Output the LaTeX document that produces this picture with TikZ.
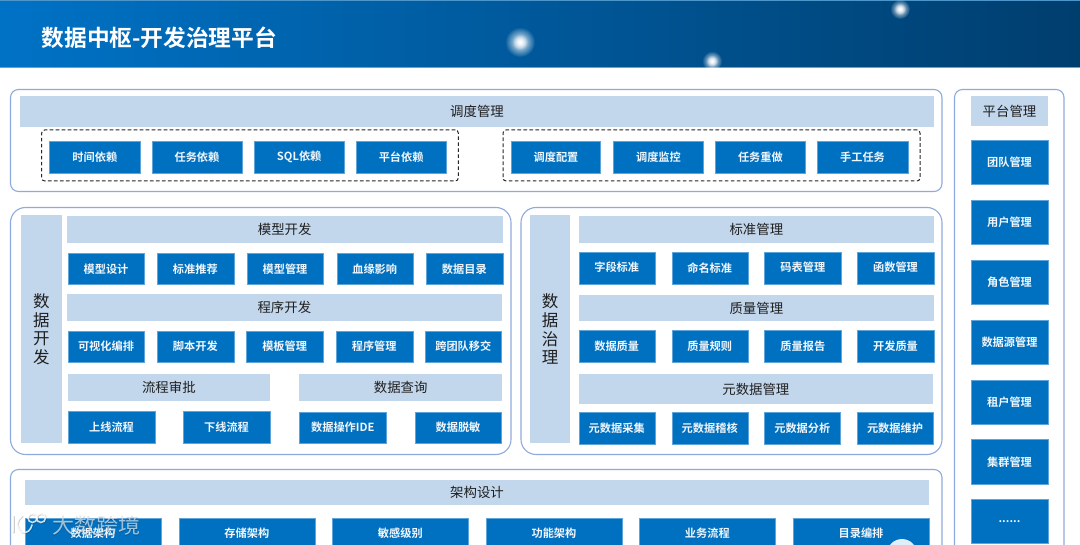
\documentclass[tikz,border=0pt]{standalone}
\usepackage{fontspec}
\usetikzlibrary{fadings}
\setmainfont{Noto Sans CJK SC}
\newfontfamily\cjkreg{Noto Sans CJK SC}
\newfontfamily\cjkmid{Noto Sans CJK SC Bold}
\newfontfamily\cjkbold{Noto Sans CJK SC Bold}
\definecolor{blockblue}{HTML}{0070C0}
\definecolor{blockedge}{HTML}{5FA5DA}
\definecolor{barblue}{HTML}{C2D6EC}
\definecolor{paneledge}{HTML}{8FAADC}
\definecolor{headleft}{HTML}{0072C6}
\definecolor{headmid}{HTML}{0069B6}
\definecolor{headright}{HTML}{003E6E}
\definecolor{inktext}{HTML}{1F1F1F}
\tikzfading[name=glowfade, inner color=transparent!0, outer color=transparent!100]
\tikzset{
  blk/.style={draw=blockedge, line width=0.3pt, fill=blockblue, text=white!94!blockblue, inner sep=0pt, outer sep=0pt,
    font=\cjkmid\fontsize{11.2}{13}\selectfont},
  hbar/.style={fill=barblue, text=inktext, inner sep=0pt, outer sep=0pt,
    font=\cjkreg\fontsize{13.4}{16}\selectfont},
  sidebar/.style={fill=barblue, text=inktext, inner sep=0pt, outer sep=0pt, align=center,
    font=\cjkreg\fontsize{16.5}{18.6}\selectfont},
  panelsq/.style={draw=paneledge, line width=1.1pt, fill=white, rounded corners=8pt, inner sep=0pt, outer sep=0pt},
  panelrd/.style={draw=paneledge, line width=1.1pt, fill=white, rounded corners=15pt, inner sep=0pt, outer sep=0pt},
  dashbox/.style={draw=black!85, line width=1pt, dash pattern=on 3.6pt off 2.4pt, rounded corners=3pt, inner sep=0pt, outer sep=0pt},
}
\newcommand{\bx}[7][]{%
  \pgfmathsetmacro{\bxw}{#5-#3}\pgfmathsetmacro{\bxh}{#6-#4}%
  \pgfmathsetmacro{\bxx}{(#3+#5)/2}\pgfmathsetmacro{\bxy}{(#4+#6)/2}%
  \node[#1, minimum width=\bxw pt, minimum height=\bxh pt] (#2) at (\bxx,\bxy) {#7};}
\begin{document}
\begin{tikzpicture}[x=1pt,y=-1pt]
\useasboundingbox (0,0) rectangle (1080,545);
\clip (0,0) rectangle (1080,545);
\fill[white] (0,0) rectangle (1080,545);
% header
\shade[left color=headleft, middle color=headmid, right color=headright, shading angle=90] (0,0) rectangle (1080,67);
\draw[blockedge, line width=0.6pt] (0,67) -- (1080,67);
\draw[headmid!70!white, line width=0.5pt] (0,0.3) -- (1080,0.3);
\fill[white, path fading=glowfade] (520,42) circle (15);
\fill[white, path fading=glowfade, opacity=.9] (520,42) circle (8);
\fill[white, path fading=glowfade] (900,9) circle (10);
\fill[white, path fading=glowfade, opacity=.9] (900,9) circle (6);
\fill[white, path fading=glowfade] (712,61) circle (10);
\fill[white, path fading=glowfade, opacity=.9] (712,61) circle (6);
\node[text=white, anchor=west, inner sep=0pt, font=\cjkbold\fontsize{22.7}{26}\selectfont] (title) at (41.5,38) {数据中枢-开发治理平台};
% panels
\bx[panelsq]{psched}{10.5}{89.5}{942}{191.5}{}
\bx[panelsq]{pplat}{954.5}{89.5}{1064}{580}{}
\bx[panelrd]{pdev}{10.5}{207.5}{511}{454.5}{}
\bx[panelrd]{pgov}{521}{207.5}{942}{454.5}{}
\bx[panelsq]{parch}{10.5}{469.5}{942}{580}{}
% scheduling
\bx[hbar]{hsched}{20}{96.5}{934}{126.7}{调度管理}
\bx[dashbox]{dleft}{41.7}{130}{458.3}{181}{}
\bx[dashbox]{dright}{503}{130}{920}{181}{}
\bx[blk]{s1}{49.6}{141}{140}{173}{时间依赖}
\bx[blk]{s2}{151.9}{141}{242}{173}{任务依赖}
\bx[blk]{s3}{254}{141}{344.4}{173}{SQL依赖}
\bx[blk]{s4}{356}{141}{446.3}{173}{平台依赖}
\bx[blk]{s5}{511.4}{141}{600.6}{173}{调度配置}
\bx[blk]{s6}{613.3}{141}{703.6}{173}{调度监控}
\bx[blk]{s7}{715.3}{141}{805.5}{173}{任务重做}
\bx[blk]{s8}{817.2}{141}{907.8}{173}{手工任务}
% platform
\bx[hbar]{hplat}{971}{96.3}{1048}{125.7}{平台管理}
\bx[blk]{m1}{971}{140}{1048}{184}{团队管理}
\bx[blk]{m2}{971}{200}{1048}{244}{用户管理}
\bx[blk]{m3}{971}{260}{1048}{304}{角色管理}
\bx[blk]{m4}{971}{320}{1048}{364}{数据源管理}
\bx[blk]{m5}{971}{380}{1048}{424}{租户管理}
\bx[blk]{m6}{971}{439.5}{1048}{484}{集群管理}
\bx[blk]{m7}{971}{499}{1048}{543}{\raisebox{-3pt}{......}}
% data development
\bx[sidebar]{sdev}{21}{215.3}{61.7}{443.3}{数\\据\\开\\发}
\bx[hbar]{h1}{66.7}{216}{502.7}{243}{模型开发}
\bx[blk]{d1}{67.7}{253.3}{144.3}{284.3}{模型设计}
\bx[blk]{d2}{157}{253.3}{233.7}{284.3}{标准推荐}
\bx[blk]{d3}{247}{253.3}{323}{284.3}{模型管理}
\bx[blk]{d4}{336.7}{253.3}{412.7}{284.3}{血缘影响}
\bx[blk]{d5}{426}{253.3}{502.7}{284.3}{数据目录}
\bx[hbar]{h2}{66.7}{294}{502}{321.3}{程序开发}
\bx[blk]{e1}{67.7}{331}{144.3}{362}{可视化编排}
\bx[blk]{e2}{157}{331}{233.7}{362}{脚本开发}
\bx[blk]{e3}{246.3}{331}{323}{362}{模板管理}
\bx[blk]{e4}{335.7}{331}{412.7}{362}{程序管理}
\bx[blk]{e5}{425.3}{331}{501.3}{362}{跨团队移交}
\bx[hbar]{h3}{67.7}{374}{270}{401}{流程审批}
\bx[hbar]{h4}{299.3}{374}{502}{401}{数据查询}
\bx[blk]{f1}{68.3}{411}{154.7}{443.3}{上线流程}
\bx[blk]{f2}{183}{411}{270}{443.3}{下线流程}
\bx[blk]{f3}{299.3}{412}{386.3}{443.3}{数据操作IDE}
\bx[blk]{f4}{415}{412}{501}{443.3}{数据脱敏}
% data governance
\bx[sidebar]{sgov}{530}{215.3}{570.3}{443.3}{数\\据\\治\\理}
\bx[hbar]{g1}{578.7}{216}{934}{243}{标准管理}
\bx[blk]{a1}{578.7}{251.7}{654.7}{283.7}{字段标准}
\bx[blk]{a2}{671.7}{251.7}{747.7}{283.7}{命名标准}
\bx[blk]{a3}{764.3}{251.7}{841.3}{283.7}{码表管理}
\bx[blk]{a4}{857}{251.7}{934}{283.7}{函数管理}
\bx[hbar]{g2}{578.7}{295}{934}{321.3}{质量管理}
\bx[blk]{b1}{578.7}{330}{654.7}{362.3}{数据质量}
\bx[blk]{b2}{671.7}{330}{747.7}{362.3}{质量规则}
\bx[blk]{b3}{764.3}{330}{841.3}{362.3}{质量报告}
\bx[blk]{b4}{857}{330}{934}{362.3}{开发质量}
\bx[hbar]{g3}{578.7}{374}{933}{404}{元数据管理}
\bx[blk]{c1}{578.7}{412}{654.7}{444}{元数据采集}
\bx[blk]{c2}{671.7}{412}{747.7}{444}{元数据稽核}
\bx[blk]{c3}{764.3}{412}{840.3}{444}{元数据分析}
\bx[blk]{c4}{857}{412}{933}{444}{元数据维护}
% architecture
\bx[hbar]{harch}{25}{480}{929}{505}{架构设计}
\bx[blk]{r1}{25}{517.7}{160.8}{548.3}{数据架构}
\bx[blk]{r2}{179}{517.7}{314.7}{548.3}{存储架构}
\bx[blk]{r3}{332.3}{517.7}{468.3}{548.3}{敏感级别}
\bx[blk]{r4}{485.9}{517.7}{622}{548.3}{功能架构}
\bx[blk]{r5}{639.5}{517.7}{775.2}{548.3}{业务流程}
\bx[blk]{r6}{793}{517.7}{929}{548.3}{目录编排}
% watermark and corner badge
\fill[white!88!blockblue] (902,554) circle (15);
\node[text=black, text opacity=.22, inner sep=0pt, anchor=west, font=\cjkreg\fontsize{22}{26}\selectfont] (wmshade) at (52.7,525.7) {大数跨境};
\node[text=white, text opacity=.62, inner sep=0pt, anchor=west, font=\cjkreg\fontsize{22}{26}\selectfont] (wm) at (52,525) {大数跨境};
\begin{scope}[line width=1.6pt, line cap=round]
\begin{scope}[draw=black, draw opacity=.2, shift={(0.7,0.7)}]
\draw (13,516) -- (13,532);
\draw (22,516) .. controls (16,521) and (15,526) .. (22,532) .. controls (27,534) and (31,530) .. (32,525);
\draw (32.5,518) circle (4.5);
\draw (41,518) circle (4.5);
\end{scope}
\begin{scope}[draw=white, draw opacity=.8]
\draw (13,516) -- (13,532);
\draw (22,516) .. controls (16,521) and (15,526) .. (22,532) .. controls (27,534) and (31,530) .. (32,525);
\draw (32.5,518) circle (4.5);
\draw (41,518) circle (4.5);
\end{scope}
\end{scope}
\end{tikzpicture}
\end{document}
